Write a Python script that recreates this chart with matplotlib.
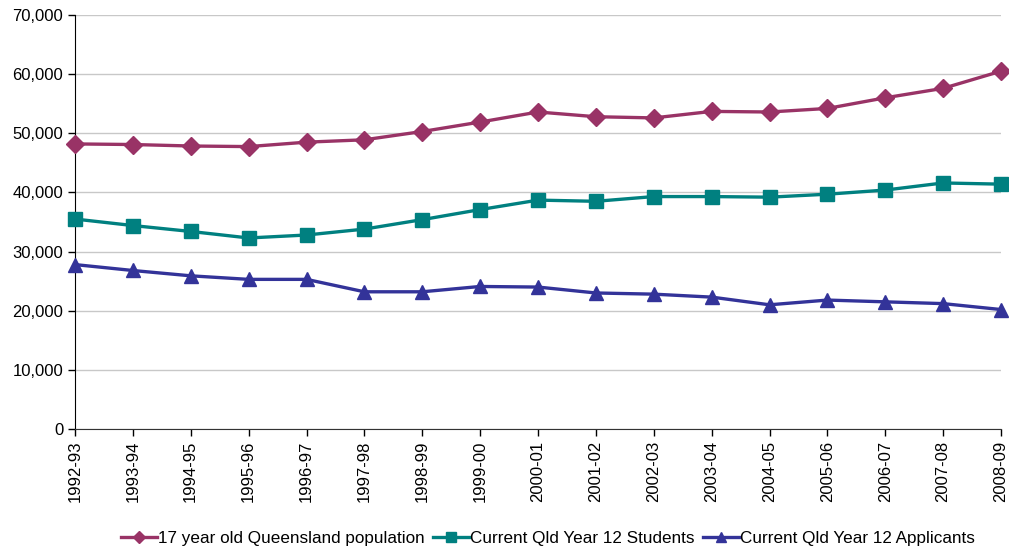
import matplotlib
matplotlib.use("Agg")
import matplotlib.pyplot as plt
from matplotlib.ticker import FuncFormatter

plt.rcParams['font.family'] = ['Liberation Sans', 'DejaVu Sans']

years = ["1992-93", "1993-94", "1994-95", "1995-96", "1996-97", "1997-98",
         "1998-99", "1999-00", "2000-01", "2001-02", "2002-03", "2003-04",
         "2004-05", "2005-06", "2006-07", "2007-08", "2008-09"]

population_17 = [48200, 48100, 47850, 47750, 48500, 48900, 50300, 51900, 53600,
                 52800, 52600, 53700, 53600, 54200, 56000, 57600, 60500]
year12_students = [35500, 34400, 33400, 32300, 32800, 33800, 35400, 37100, 38700,
                   38500, 39300, 39300, 39200, 39700, 40400, 41600, 41400]
year12_applicants = [27800, 26800, 25900, 25300, 25300, 23200, 23200, 24100, 24000,
                     23000, 22800, 22300, 21000, 21800, 21500, 21200, 20200]

fig = plt.figure(figsize=(10.09, 5.5), dpi=100)
ax = fig.add_axes([75 / 1009, 1 - 429 / 550, 926 / 1009, 414 / 550])

x = list(range(len(years)))
ax.plot(x, population_17, color="#993366", lw=2.4, marker="D", ms=9,
        label="17 year old Queensland population", clip_on=False, zorder=3)
ax.plot(x, year12_students, color="#008080", lw=2.4, marker="s", ms=9.5,
        label="Current Qld Year 12 Students", clip_on=False, zorder=3)
ax.plot(x, year12_applicants, color="#333399", lw=2.4, marker="^", ms=10,
        label="Current Qld Year 12 Applicants", clip_on=False, zorder=3)

ax.set_xlim(0, len(years) - 1)
ax.set_ylim(0, 70000)
ax.set_yticks(range(0, 70001, 10000))
ax.yaxis.set_major_formatter(FuncFormatter(lambda v, p: f"{int(v):,}"))
ax.set_xticks(x)
ax.set_xticklabels(years, rotation=90)
ax.tick_params(axis="both", labelsize=12, length=5, width=1, direction="out")
ax.grid(axis="y", color="#C8C8C8", lw=1)
ax.set_axisbelow(True)
for side in ("top", "right"):
    ax.spines[side].set_visible(False)
ax.spines["left"].set_color("black")
ax.spines["bottom"].set_color("#333333")

fig.legend(loc="center", bbox_to_anchor=(548 / 1009, 1 - 538 / 550),
           ncol=3, frameon=False, fontsize=12.3, borderpad=0,
           handlelength=2.1, handletextpad=0.05, columnspacing=0.5, markerscale=0.7)

fig.savefig("out.png", dpi=100)
